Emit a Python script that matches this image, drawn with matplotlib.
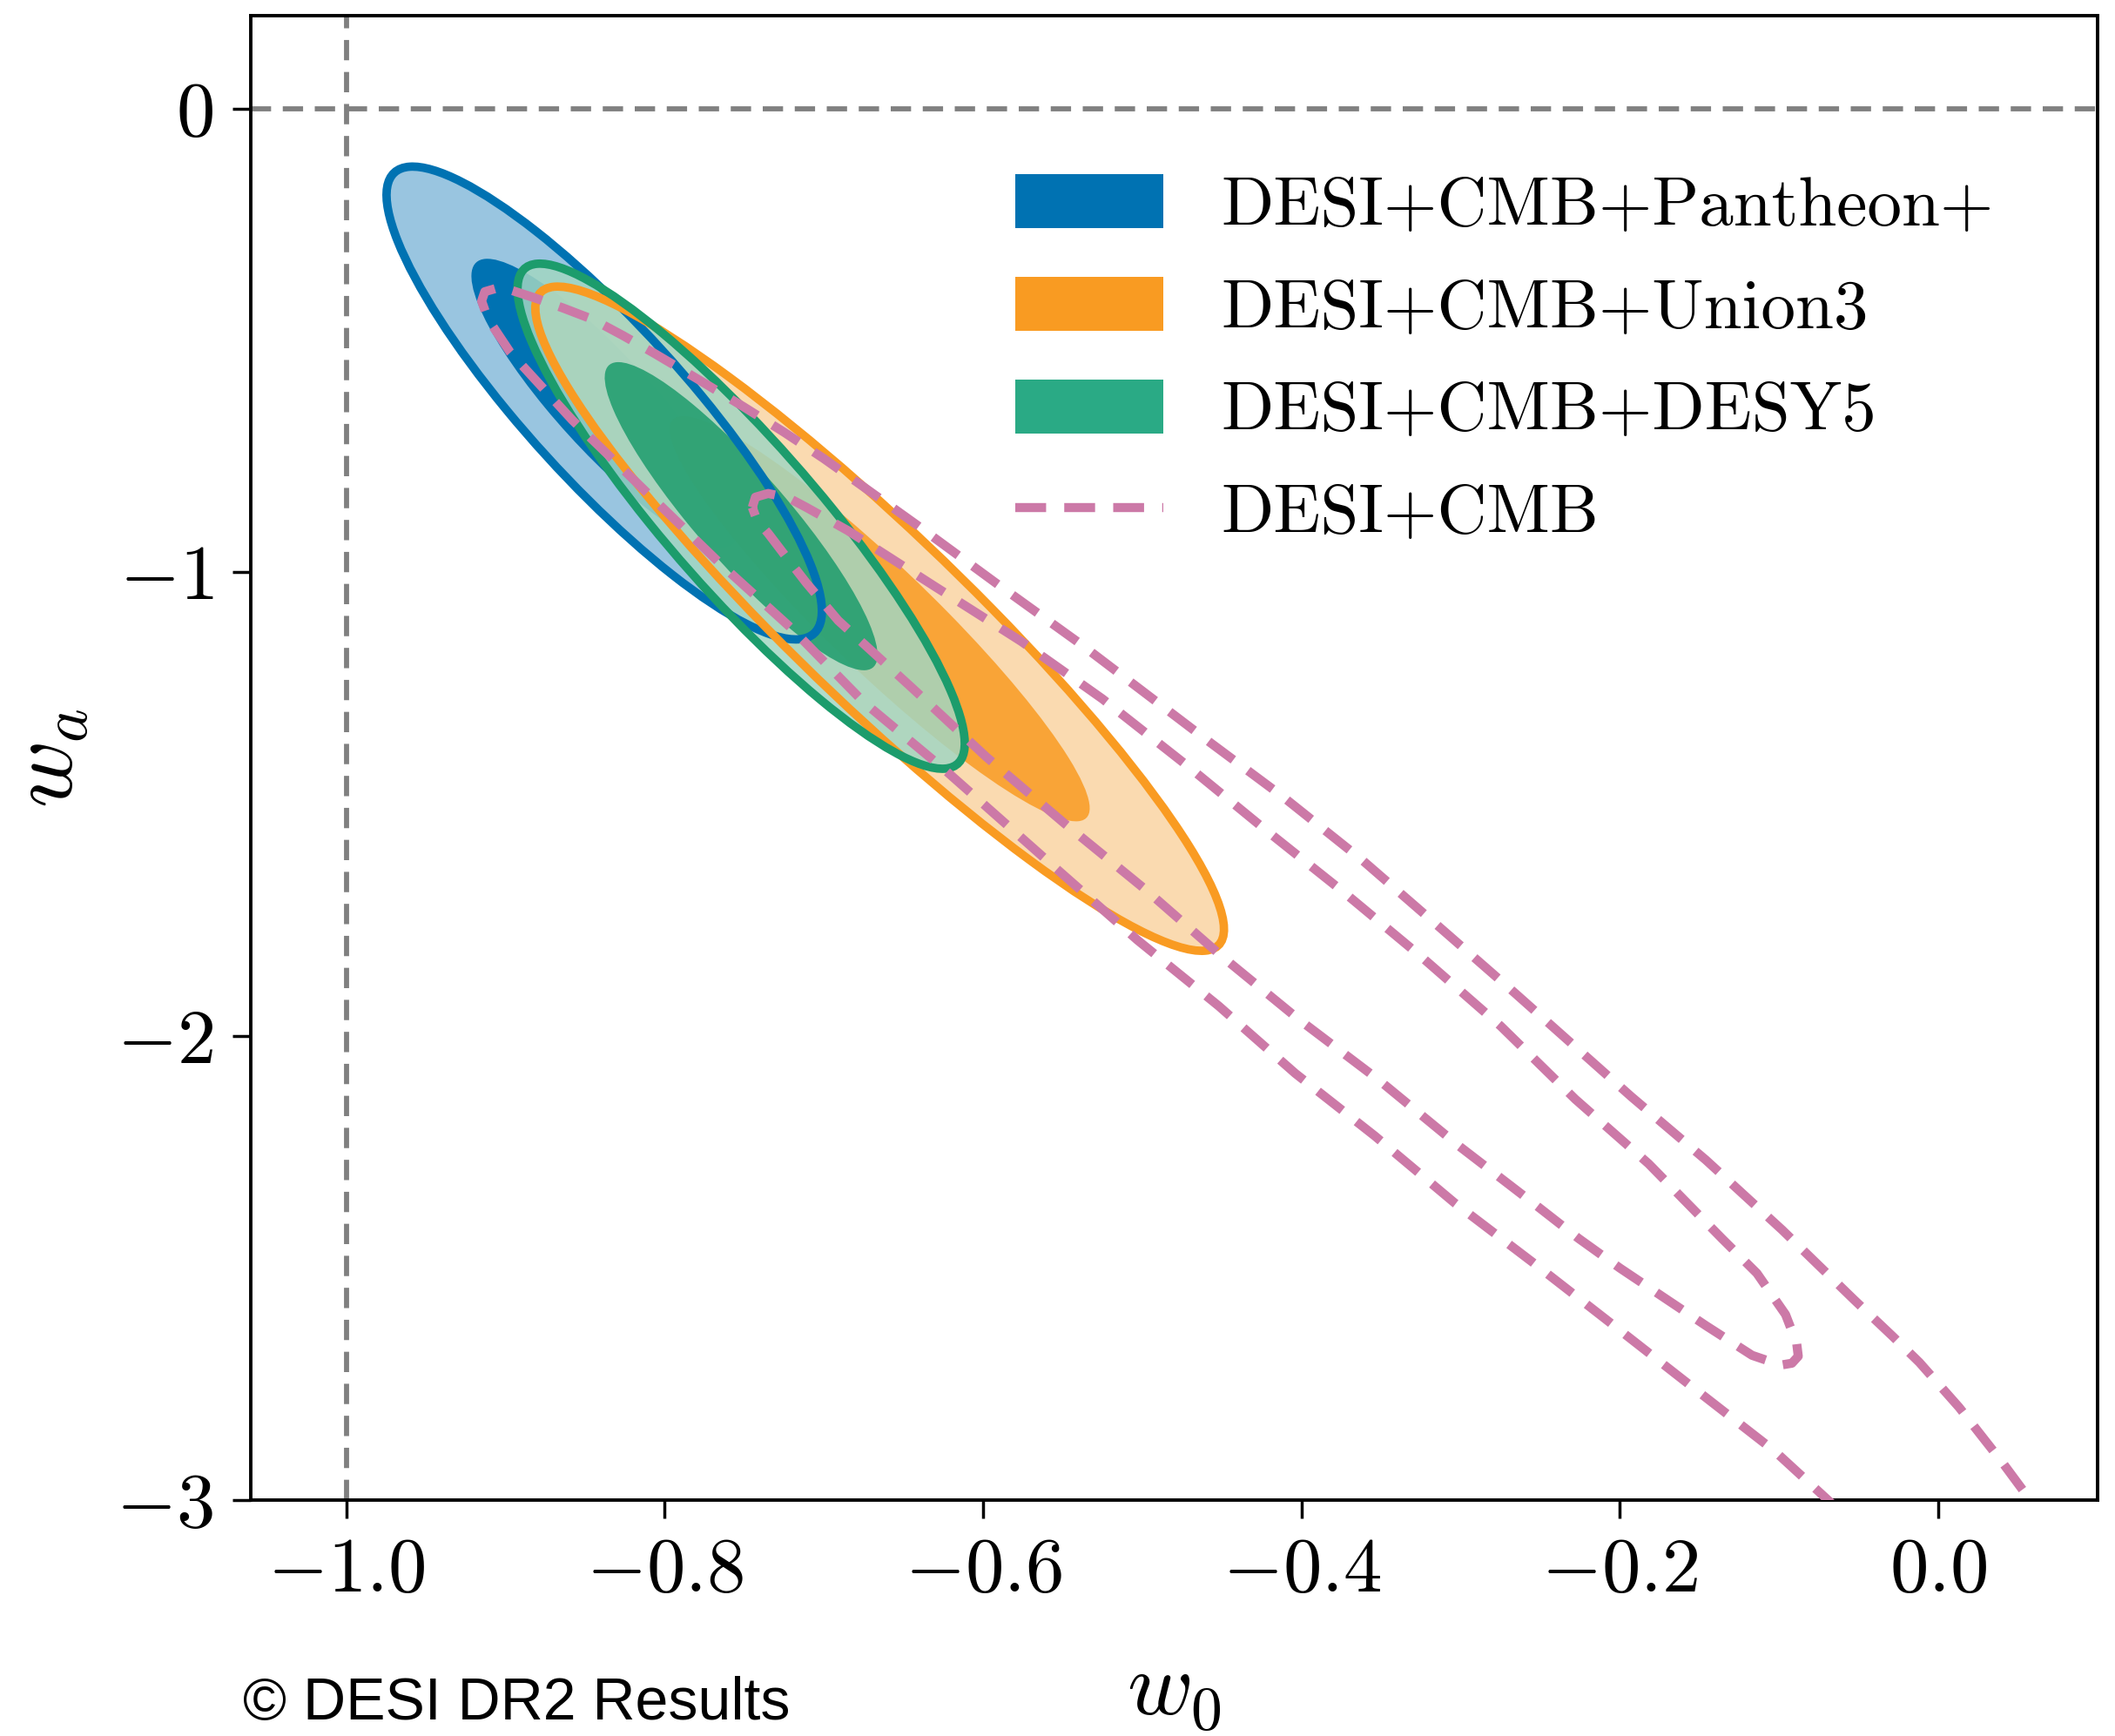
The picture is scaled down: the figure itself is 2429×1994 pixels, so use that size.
import numpy as np
import matplotlib
matplotlib.use("Agg")
import matplotlib.pyplot as plt
from matplotlib.patches import Ellipse, Patch
from matplotlib.lines import Line2D

plt.rcParams["font.family"] = "serif"
plt.rcParams["font.serif"] = ["cmr10"]
plt.rcParams["mathtext.fontset"] = "cm"
plt.rcParams["axes.formatter.use_mathtext"] = True

# ── data: gaussian summaries of the SN combinations ─────────
labels     = ["DESI+CMB+Pantheon+", "DESI+CMB+Union3", "DESI+CMB+DESY5"]
w0_mean    = [-0.838, -0.665, -0.752]
wa_mean    = [-0.635, -1.10, -0.879]
w0_sigma   = [0.055, 0.087, 0.0565]
wa_sigma   = [0.205, 0.288, 0.219]
corr       = [-0.88, -0.935, -0.90]
chi2_levels = [2.30, 6.18]   # 68%, 95% in 2D

# ── data: DESI+CMB contours (non gaussian) ─
desi_cmb_95_w0 = [-0.063, -0.103, -0.155, -0.206, -0.255, -0.304, -0.354, -0.404,
                  -0.452, -0.503, -0.551, -0.625, -0.675, -0.720, -0.764, -0.813,
                  -0.858, -0.897, -0.911, -0.915, -0.913, -0.905, -0.899, -0.882,
                  -0.864, -0.845, -0.826, -0.806, -0.780, -0.751, -0.725, -0.700,
                  -0.675, -0.642, -0.592, -0.539, -0.457, -0.412, -0.362, -0.314,
                  -0.266, -0.193, -0.146, -0.098, -0.053, -0.029, -0.012, 0.013,
                  0.040, 0.062]
desi_cmb_95_wa = [-3.02, -2.894, -2.755, -2.618, -2.487, -2.359, -2.215, -2.080,
                  -1.935, -1.793, -1.648, -1.423, -1.280, -1.122, -0.985, -0.822,
                  -0.672, -0.526, -0.454, -0.415, -0.395, -0.387, -0.389, -0.408,
                  -0.430, -0.455, -0.490, -0.529, -0.582, -0.642, -0.698, -0.755,
                  -0.816, -0.897, -1.023, -1.154, -1.368, -1.483, -1.620, -1.763,
                  -1.907, -2.130, -2.267, -2.418, -2.568, -2.646, -2.703, -2.800,
                  -2.918, -3.02]

desi_cmb_68_w0 = [-0.745, -0.743, -0.735, -0.722, -0.711, -0.685, -0.631, -0.576,
                  -0.525, -0.471, -0.423, -0.373, -0.325, -0.275, -0.228, -0.182,
                  -0.136, -0.114, -0.096, -0.089, -0.088, -0.092, -0.099, -0.117,
                  -0.146, -0.173, -0.200, -0.226, -0.251, -0.301, -0.352, -0.402,
                  -0.450, -0.498, -0.549, -0.598, -0.645, -0.691, -0.711, -0.725,
                  -0.735, -0.742, -0.745]
desi_cmb_68_wa = [-0.860, -0.838, -0.830, -0.840, -0.860, -0.910, -1.029, -1.149,
                  -1.273, -1.419, -1.554, -1.691, -1.828, -1.978, -2.136, -2.275,
                  -2.436, -2.511, -2.600, -2.662, -2.690, -2.705, -2.709, -2.688,
                  -2.624, -2.562, -2.500, -2.436, -2.369, -2.237, -2.093, -1.963,
                  -1.828, -1.684, -1.541, -1.398, -1.248, -1.104, -1.023, -0.961,
                  -0.916, -0.888, -0.860]

base_colors   = ["#0072B2", "#F99B22", "#2AAA85"]
inner_colors  = ["#0072B2", "#F99B22", "#1C9C6C"]
light_colors  = ["#99C5E0", "#FAD4A3", "#A2D6C2"]
fill_alpha    = [1.0, 0.85, 0.85]
pink = "#CC79A7"
gray = "#808080"


def ellipse_geom(i, k):
    sx, sy, r = w0_sigma[i], wa_sigma[i], corr[i]
    cov = np.array([[sx**2, r*sx*sy], [r*sx*sy, sy**2]])
    vals, vecs = np.linalg.eigh(cov)
    angle = np.degrees(np.arctan2(vecs[1, 1], vecs[0, 1]))
    return 2*np.sqrt(k*vals[1]), 2*np.sqrt(k*vals[0]), angle


fig = plt.figure(figsize=(24.29, 19.94), dpi=100)
ax = fig.add_axes([288/2429, 1 - 1723/1994, 2121/2429, 1705/1994])

# reference lines
ax.axvline(-1.0, color=gray, lw=4.2, ls=(0, (4.0, 2.3)), zorder=0.5)
ax.axhline(0.0, color=gray, lw=4.2, ls=(0, (4.0, 2.3)), zorder=0.5)

# filled contours
for i in range(len(labels)):
    w, h, a = ellipse_geom(i, chi2_levels[1])
    ax.add_patch(Ellipse((w0_mean[i], wa_mean[i]), w, h, angle=a,
                         facecolor=light_colors[i], edgecolor="none",
                         alpha=fill_alpha[i], zorder=1 + i))
    w, h, a = ellipse_geom(i, chi2_levels[0])
    ax.add_patch(Ellipse((w0_mean[i], wa_mean[i]), w, h, angle=a,
                         facecolor=inner_colors[i], edgecolor="none",
                         alpha=fill_alpha[i], zorder=1 + i))

# outlines on top
for i in range(len(labels)):
    w, h, a = ellipse_geom(i, chi2_levels[1])
    ax.add_patch(Ellipse((w0_mean[i], wa_mean[i]), w, h, angle=a,
                         fill=False, edgecolor=inner_colors[i], lw=7,
                         zorder=5))

# DESI+CMB dashed
ax.plot(desi_cmb_95_w0, desi_cmb_95_wa, color=pink, lw=7.5,
        dashes=(3.4, 2.0), zorder=6)
ax.plot(desi_cmb_68_w0, desi_cmb_68_wa, color=pink, lw=7.5,
        dashes=(3.4, 2.0), zorder=6)

ax.set_xlim(-1.06, 0.1)
ax.set_ylim(-3.0, 0.2)
ax.set_xticks([-1.0, -0.8, -0.6, -0.4, -0.2, 0.0])
ax.set_yticks([0, -1, -2, -3])
ax.tick_params(direction="out", length=15, width=2.5, labelsize=64, pad=16)
for s in ax.spines.values():
    s.set_linewidth(2.8)

ax.set_xlabel(r"$w_0$", fontsize=74, labelpad=40)
ax.set_ylabel(r"$w_a$", fontsize=76, labelpad=20)

handles = [Patch(facecolor=c) for c in base_colors]
handles.append(Line2D([], [], color=pink, lw=7.5, dashes=(3.4, 2.0)))
ax.legend(handles, labels + ["DESI+CMB"], loc="upper left",
          bbox_to_anchor=(0.414, 0.893), frameon=False, fontsize=57,
          handlelength=2.14, handleheight=0.82, handletextpad=0.85,
          labelspacing=0.55, borderpad=0, borderaxespad=0)

fig.text(279/2429, 1 - 1975/1994, "\u00a9 DESI DR2 Results", fontsize=49,
         family="Liberation Sans", ha="left", va="baseline")

fig.savefig("out.png", dpi=100)
